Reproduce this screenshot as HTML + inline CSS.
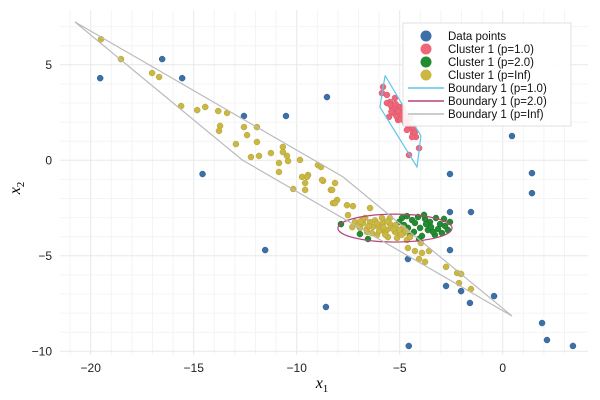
<!DOCTYPE html>
<html><head><meta charset="utf-8"><style>
html,body{margin:0;padding:0;background:#fff;}
svg{display:block;font-family:"Liberation Sans",sans-serif;}
</style></head><body>
<svg id="chart" width="600" height="400" viewBox="0 0 600 400">
<g id="grid"></g>
<g id="ticks"></g>
<g id="marks"></g>
<text x="322" y="388" font-family="Liberation Serif,serif" font-style="italic" font-size="16" text-anchor="middle">x<tspan font-size="11" dy="4" font-style="normal">1</tspan></text>
<text transform="translate(20,188) rotate(-90)" font-family="Liberation Serif,serif" font-style="italic" font-size="16" text-anchor="middle">x<tspan font-size="11" dy="4" font-style="normal">2</tspan></text>
<g id="legend"></g>
</svg>
<script>
const xTicks=[-20,-15,-10,-5,0];
const yTicks=[5,0,-5,-10];
const blueX=[-19.54,-16.53,-15.56,-12.56,-10.52,-8.53,-14.57,-11.53,-8.58,-4.56,-4.60,-2.56,-1.54,-2.56,-2.56,-2.75,-2.02,-1.59,-0.42,0.45,1.42,1.42,1.91,2.15,3.41];
const blueY=[4.30,5.30,4.30,2.32,2.32,3.31,-0.72,-4.70,-7.68,-9.72,-5.17,-2.71,-2.71,-0.72,-4.70,-6.58,-6.85,-7.47,-7.11,1.27,-0.67,-1.72,-8.52,-9.41,-9.72];
const pinkX=[-5.81,-5.86,-5.62,-5.47,-5.33,-5.13,-4.99,-4.84,-4.65,-4.50,-4.35,-4.21,-4.06,-4.55,-5.52,-5.23,-5.37,-4.99,-4.74,-4.50,-4.65,-4.26,-5.08,-4.84,-5.62,-5.28,-4.40,-4.35,-5.45,-5.20,-5.05,-4.90,-4.80,-4.60,-5.40,-5.15,-4.95,-4.70];
const pinkY=[3.84,3.52,3.42,3.05,2.89,2.63,2.47,2.27,2.01,1.69,1.43,1.22,0.64,0.28,2.27,3.26,2.74,2.79,1.95,2.21,1.59,1.48,2.11,2.74,3.00,2.47,1.22,1.74,2.90,2.95,2.55,2.40,2.55,1.85,2.55,2.30,2.15,2.35];
const greenX=[-4.89,-4.65,-4.40,-4.11,-3.77,-3.53,-3.24,-3.04,-2.80,-2.56,-2.66,-2.95,-3.29,-3.63,-4.01,-4.31,-4.60,-4.79,-3.92,-3.48,-3.14,-4.26,-3.72,-3.38,-4.50,-2.85,-4.06,-5.03,-7.85,-6.93,-6.54,-3.82];
const greenY=[-3.02,-2.92,-3.13,-2.97,-3.07,-3.23,-3.02,-3.34,-3.44,-3.23,-3.65,-3.81,-3.91,-3.65,-3.54,-3.75,-3.54,-3.39,-3.96,-3.49,-3.60,-3.28,-3.34,-3.75,-3.96,-3.07,-4.12,-3.23,-3.34,-3.86,-4.12,-2.86];
const yellowX=[-19.50,-18.53,-17.02,-16.68,-15.61,-14.83,-14.44,-13.81,-13.38,-13.72,-13.77,-12.56,-11.93,-12.95,-12.41,-11.93,-12.22,-11.83,-11.25,-10.67,-10.67,-10.47,-10.42,-10.86,-10.86,-9.84,-8.97,-8.82,-9.74,-9.45,-9.59,-10.17,-9.59,-8.72,-8.14,-8.34,-8.04,-8.24,-9.50,-8.77,-8.28,-8.14,-7.56,-7.27,-7.51,-6.44,-6.78,-6.30,-5.81,-5.33,-4.99,-5.57,-6.10,-6.59,-4.65,-5.13,-5.96,-5.62,-4.84,-4.50,-4.60,-4.26,-3.92,-3.58,-4.06,-3.77,-2.75,-2.21,-2.02,-2.12,-1.54,-3.97,-7.17,-6.93,-6.44,-6.05,-5.47,-5.23,-6.35,-5.71,-6.68,-5.47,-5.86,-7.00,-6.80,-6.60,-6.20,-6.00,-5.80,-5.60,-5.40,-5.20,-5.00,-4.80,-6.50,-6.10,-5.70,-5.30,-4.90,-6.90,-7.30,-4.70];
const yellowY=[6.34,5.30,4.57,4.36,2.84,2.63,2.79,2.58,2.48,1.80,1.54,1.74,1.74,0.85,1.32,0.96,0.17,0.23,0.38,0.70,0.43,0.23,-0.04,-0.14,-0.61,0.02,-0.25,-0.35,-0.87,-0.77,-1.19,-1.50,-1.55,-1.08,-1.19,-1.55,-2.08,-2.24,-0.87,-1.03,-1.55,-2.24,-2.35,-2.40,-2.87,-2.50,-3.29,-3.49,-3.29,-3.49,-3.81,-4.02,-3.91,-3.75,-4.17,-4.07,-3.65,-3.65,-3.54,-4.02,-4.59,-4.75,-4.85,-4.75,-5.17,-5.32,-5.58,-5.90,-5.95,-6.43,-6.74,-4.33,-3.24,-3.54,-3.24,-3.44,-3.34,-3.75,-3.81,-3.81,-3.02,-3.02,-3.02,-3.40,-3.10,-3.60,-3.15,-3.70,-3.50,-3.20,-3.55,-3.40,-3.65,-3.80,-3.45,-3.30,-3.90,-3.60,-3.90,-3.20,-3.50,-3.70];
const bound1X=[-5.71,-5.96,-4.16,-3.97,-5.71];
const bound1Y=[4.44,2.79,-0.35,1.28,4.44];
const ellipseCenter=[-5.23,-3.55];
const ellipseRadii=[2.77,0.73];
const boundInfX=[-20.76,-7.75,0.45,-12.65,-20.76];
const boundInfY=[7.24,-0.87,-8.15,0.02,7.24];

const NS="http://www.w3.org/2000/svg";
const L=60,R=588,T=10,B=355;
function sx(v){return 502.7+v*20.6;}
function sy(v){return 160.3-v*19.1;}
function mk(tag,attrs,parent){const e=document.createElementNS(NS,tag);for(const k in attrs)e.setAttribute(k,attrs[k]);parent.appendChild(e);return e;}
const grid=document.getElementById('grid'),ticks=document.getElementById('ticks'),marks=document.getElementById('marks'),legend=document.getElementById('legend');
for(let v=-21;v<=3;v++){const l=mk('line',{x1:sx(v),x2:sx(v),y1:T,y2:B,stroke:v%5===0?'#e8e8e8':'#f4f4f4','stroke-width':1},grid);

}
for(let v=-10;v<=7;v++){const l=mk('line',{x1:L,x2:R,y1:sy(v),y2:sy(v),stroke:v%5===0?'#e8e8e8':'#f4f4f4','stroke-width':1},grid);

}
xTicks.forEach(v=>{const t=mk('text',{x:sx(v),y:372,'font-size':12,'text-anchor':'middle',fill:'#222'},ticks);t.textContent=v<0?'\u2212'+(-v):String(v);

});
yTicks.forEach(v=>{const t=mk('text',{x:52,y:sy(v)+4,'font-size':12,'text-anchor':'end',fill:'#222'},ticks);t.textContent=v<0?'\u2212'+(-v):String(v);

});
function pts(xs,ys,fill,stroke,name){xs.forEach((x,i)=>{const c=mk('circle',{cx:sx(x),cy:sy(ys[i]),r:3,fill:fill,stroke:stroke,'stroke-width':0.5},marks);

});}
pts(blueX,blueY,'#3b70a8','#2d5a88','data-point');
pts(pinkX,pinkY,'#ef6679','#d85468','cluster-p1-point');
pts(greenX,greenY,'#238b32','#1a6e27','cluster-p2-point');
pts(yellowX,yellowY,'#cbb843','#b0a036','cluster-pinf-point');
function poly(xs,ys,col,name){const d=xs.map((x,i)=>(i?'L':'M')+sx(x).toFixed(1)+','+sy(ys[i]).toFixed(1)).join('');const p=mk('path',{d:d,fill:'none',stroke:col,'stroke-width':1.2},marks);

}
poly(bound1X,bound1Y,'#5ec6e8','boundary-p1');
const el=mk('ellipse',{cx:sx(ellipseCenter[0]),cy:sy(ellipseCenter[1]),rx:ellipseRadii[0]*20.6,ry:ellipseRadii[1]*19.1,fill:'none',stroke:'#b3457a','stroke-width':1.2},marks);


poly(boundInfX,boundInfY,'#bbbbbb','boundary-pinf');
const lb=mk('rect',{x:403,y:23,width:168,height:103,fill:'#fff','fill-opacity':0.9,stroke:'#e0e0e0','stroke-width':1},legend);


const entries=[['Data points','#3b70a8','pt'],['Cluster 1 (p=1.0)','#ef6679','pt'],['Cluster 1 (p=2.0)','#238b32','pt'],['Cluster 1 (p=Inf)','#cbb843','pt'],['Boundary 1 (p=1.0)','#5ec6e8','ln'],['Boundary 1 (p=2.0)','#b3457a','ln'],['Boundary 1 (p=Inf)','#bbbbbb','ln']];
entries.forEach((e,i)=>{const y=36+i*13;
if(e[2]==='pt'){const c=mk('circle',{cx:426,cy:y,r:5.5,fill:e[1]},legend);

}
else{const l=mk('line',{x1:408,x2:444,y1:y,y2:y,stroke:e[1],'stroke-width':1.5},legend);

}
const t=mk('text',{x:448,y:y+4,'font-size':11.5,fill:'#111'},legend);t.textContent=e[0];

});
</script>
</body></html>
